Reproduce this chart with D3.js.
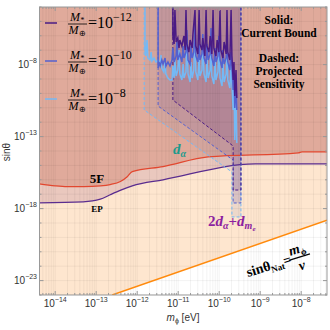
<!DOCTYPE html>
<html>
<head>
<meta charset="utf-8">
<title>sin theta bounds</title>
<style>
  body { margin: 0; background: #fff; }
  svg text { font-family: "Liberation Sans", Arial, sans-serif; }
  .serif { font-family: "Liberation Serif", "Times New Roman", serif; }
</style>
</head>
<body>
<div id="plot"></div>
<script src="https://cdn.jsdelivr.net/npm/d3@7/dist/d3.min.js"></script>
<script>
// all curve points are [log10(m_phi / eV), log10(sin theta)]
let xDomain = [4.14e-15, 4.26e-8];
let yDomain = [1e-24, 1e-4];
let xTickPowers = [-14, -13, -12, -11, -10, -9, -8];
let yTickPowers = [-23, -18, -13, -8];

// sin(theta)_Nat = m_phi / v
let natLine = [[-12.61, -24], [-7.37, -18.8]];

// fifth force bound
let fiveF = [[-14.39, -16.28], [-14.0, -16.42], [-13.71, -16.47], [-13.3, -16.47], [-12.9, -16.42],
  [-12.66, -16.33], [-12.41, -16.12], [-12.25, -15.8], [-12.12, -15.43], [-11.37, -15.08],
  [-10.27, -14.41], [-8.07, -14.13], [-7.98, -14.06], [-7.37, -14.06]];

// equivalence principle bound
let epLine = [[-14.39, -17.6], [-13.32, -17.53], [-12.9, -17.35], [-12.66, -17.04],
  [-12.4, -16.72], [-12.12, -16.42], [-11.37, -16.0], [-9.12, -14.9], [-7.37, -14.9]];

// projected sensitivities (dashed), M*/M_earth = 1e-8, 1e-10, 1e-12
let dash8 = [[-11.83, -4], [-11.83, -11.15], [-9.69, -15.46], [-9.69, -18.58], [-9.47, -18.58], [-9.47, -4]];
let dash10 = [[-11.49, -4], [-11.49, -10.88], [-9.66, -14.63], [-9.66, -17.61], [-9.47, -17.61], [-9.47, -4]];
let dash12 = [[-11.13, -4], [-11.13, -10.46], [-9.66, -13.65], [-9.66, -16.71], [-9.47, -16.71], [-9.47, -4]];

// current bounds (solid)
let solid8 = [[-11.81,-4],[-11.81,-6.99],[-11.79,-7.40],[-11.76,-6.29],[-11.74,-7.54],[-11.69,-7.68],[-11.66,-7.13],
  [-11.64,-7.75],[-11.59,-7.54],[-11.54,-7.82],[-11.49,-7.68],[-11.44,-7.96],[-11.42,-7.33],[-11.40,-8.24],
  [-11.35,-8.51],[-11.32,-7.82],[-11.30,-8.65],[-11.25,-8.93],[-11.20,-9.07],[-11.15,-9.07],[-11.13,-8.10],
  [-11.10,-8.93],[-11.08,-7.68],[-11.05,-8.79],[-11.01,-8.38],[-10.98,-6.99],[-10.96,-8.65],[-10.91,-9.07],
  [-10.88,-7.96],[-10.86,-8.93],[-10.81,-8.51],[-10.79,-6.15],[-10.76,-8.65],[-10.71,-9.21],[-10.69,-7.82],
  [-10.66,-8.93],[-10.62,-8.38],[-10.59,-5.60],[-10.57,-8.51],[-10.52,-9.07],[-10.49,-7.40],[-10.47,-8.79],
  [-10.42,-8.38],[-10.40,-6.43],[-10.37,-8.65],[-10.32,-9.21],[-10.30,-7.54],[-10.27,-8.93],[-10.22,-8.38],
  [-10.20,-6.01],[-10.18,-8.79],[-10.13,-9.35],[-10.10,-7.68],[-10.08,-9.07],[-10.03,-8.51],[-10.01,-6.57],
  [-9.98,-8.93],[-9.93,-9.49],[-9.91,-7.82],[-9.88,-9.21],[-9.83,-8.65],[-9.81,-6.99],[-9.79,-9.07],
  [-9.74,-9.63],[-9.71,-8.10],[-9.69,-9.35],[-9.66,-11.15],[-9.64,-9.07],[-9.62,-13.24],[-9.59,-10.18],[-9.57,-13.44]];

let solid10 = [[-11.49,-4],[-11.49,-8.24],[-11.47,-7.82],[-11.44,-8.10],[-11.40,-7.68],[-11.37,-7.96],[-11.32,-7.54],
  [-11.30,-8.10],[-11.25,-7.82],[-11.20,-8.10],[-11.15,-7.68],[-11.13,-6.85],[-11.10,-7.82],[-11.05,-7.40],
  [-11.03,-6.29],[-11.01,-7.68],[-10.96,-7.26],[-10.91,-7.82],[-10.88,-6.71],[-10.86,-7.54],[-10.81,-7.13],
  [-10.79,-5.60],[-10.76,-7.68],[-10.71,-7.96],[-10.69,-6.71],[-10.66,-7.54],[-10.62,-7.13],[-10.59,-5.18],
  [-10.57,-7.40],[-10.52,-7.82],[-10.49,-6.57],[-10.47,-7.68],[-10.42,-7.26],[-10.40,-5.88],[-10.37,-7.54],
  [-10.32,-7.96],[-10.30,-6.57],[-10.27,-7.68],[-10.22,-7.26],[-10.20,-5.46],[-10.18,-7.54],[-10.13,-8.10],
  [-10.10,-6.85],[-10.08,-7.82],[-10.03,-7.40],[-10.01,-6.01],[-9.98,-7.68],[-9.93,-8.24],[-9.91,-6.99],
  [-9.88,-7.96],[-9.83,-7.54],[-9.81,-6.29],[-9.79,-7.82],[-9.74,-8.38],[-9.71,-7.13],[-9.69,-8.10],
  [-9.66,-9.76],[-9.64,-8.65],[-9.62,-11.01],[-9.59,-9.35],[-9.57,-11.15]];

let solid12 = [[-11.13,-4],[-11.13,-6.01],[-11.10,-6.57],[-11.08,-4.21],[-11.05,-6.43],[-11.01,-6.15],[-10.98,-6.85],
  [-10.96,-6.29],[-10.91,-6.71],[-10.86,-6.01],[-10.83,-6.99],[-10.81,-4.21],[-10.79,-6.57],[-10.74,-7.13],
  [-10.71,-6.29],[-10.66,-6.85],[-10.64,-5.88],[-10.59,-4.21],[-10.57,-6.71],[-10.52,-7.26],[-10.49,-4.21],
  [-10.47,-6.57],[-10.42,-6.99],[-10.40,-6.15],[-10.35,-7.40],[-10.32,-4.21],[-10.30,-6.71],[-10.25,-7.13],
  [-10.22,-6.01],[-10.18,-7.26],[-10.15,-4.21],[-10.13,-6.85],[-10.08,-7.40],[-10.05,-6.29],[-10.01,-7.13],
  [-9.98,-4.21],[-9.96,-6.99],[-9.91,-7.54],[-9.88,-6.43],[-9.83,-7.26],[-9.81,-4.21],[-9.79,-7.13],
  [-9.74,-7.68],[-9.71,-4.21],[-9.69,-7.40],[-9.66,-9.07],[-9.64,-7.82],[-9.62,-10.18],[-9.59,-8.38],[-9.57,-10.32]];

let legendExp = ['-12', '-10', '-8'];
let legendColors = ['#4a1b85', '#5461cf', '#74b9f5'];
let regionFills = ['#5a2878', '#6a4a98', '#8a8ab0'];

let svgWidth = 330, svgHeight = 330;
let margin = {top: 7, right: 3, bottom: 35, left: 39.5};
let width = svgWidth - margin.left - margin.right;
let height = svgHeight - margin.top - margin.bottom;

let svg = d3.select('#plot').append('svg')
  .attr('width', svgWidth).attr('height', svgHeight);

let x = d3.scaleLog().domain(xDomain).range([margin.left, margin.left + width]);
let y = d3.scaleLog().domain(yDomain).range([margin.top + height, margin.top]);
let px = d => x(Math.pow(10, d[0]));
let py = d => y(Math.pow(10, d[1]));
let line = d3.line().x(px).y(py);
let smooth = d3.line().x(px).y(py).curve(d3.curveMonotoneX);

svg.append('defs').append('clipPath').attr('id', 'clip')
  .append('rect').attr('x', margin.left).attr('y', margin.top)
  .attr('width', width).attr('height', height);

let plot = svg.append('g').attr('clip-path', 'url(#clip)');
let yHi = Math.log10(yDomain[1]) + 1;
let xLo = Math.log10(xDomain[0]) - 1;
let xHi = Math.log10(xDomain[1]) + 1;

// region above the naturalness line
let natPoly = [[xLo, natLine[0][1] - 1], ...natLine, [xHi, natLine[1][1]], [xHi, yHi], [xLo, yHi]];
plot.append('path').attr('d', line(natPoly)).attr('fill', '#fee6cf');

function above(pts) {
  let first = pts[0], last = pts[pts.length - 1];
  return [[first[0], yHi], ...pts, [last[0], yHi]];
}
plot.append('path').attr('d', smooth(above(epLine))).attr('fill', '#eac8be');
plot.append('path').attr('d', smooth(above(fiveF))).attr('fill', '#e0aa9b');

// projected sensitivity regions
[[dash8, regionFills[2]], [dash10, regionFills[1]], [dash12, regionFills[0]]].forEach(([d, c]) => {
  plot.append('path').attr('d', line(d) + 'Z').attr('fill', c).attr('fill-opacity', 0.15);
});

// grid
let minor = [];
for (let k = -15; k <= -8; k++) for (let j = 1; j <= 9; j++) minor.push(j * Math.pow(10, k));
minor = minor.filter(v => v >= xDomain[0] && v <= xDomain[1]);
plot.selectAll('.vgrid').data(minor).enter().append('line')
  .attr('x1', d => x(d)).attr('x2', d => x(d))
  .attr('y1', margin.top).attr('y2', margin.top + height)
  .attr('stroke', '#000').attr('stroke-opacity', 0.05);
let decades = d3.range(-24, -3).map(k => Math.pow(10, k));
plot.selectAll('.hgrid').data(decades).enter().append('line')
  .attr('x1', margin.left).attr('x2', margin.left + width)
  .attr('y1', d => y(d)).attr('y2', d => y(d))
  .attr('stroke', '#000').attr('stroke-opacity', 0.05);

// bound lines
plot.append('path').attr('d', line(natLine)).attr('fill', 'none').attr('stroke', '#ff8a0d').attr('stroke-width', 1.5);
plot.append('path').attr('d', smooth(epLine)).attr('fill', 'none').attr('stroke', '#5a2d8f').attr('stroke-width', 1.3);
plot.append('path').attr('d', smooth(fiveF)).attr('fill', 'none').attr('stroke', '#e2472f').attr('stroke-width', 1.3);

[[dash8, legendColors[2]], [dash10, legendColors[1]], [dash12, legendColors[0]]].forEach(([d, c]) => {
  plot.append('path').attr('d', line(d)).attr('fill', 'none').attr('stroke', c)
    .attr('stroke-width', 1).attr('stroke-dasharray', '3,2');
});
[[solid8, legendColors[2]], [solid10, legendColors[1]], [solid12, legendColors[0]]].forEach(([d, c]) => {
  plot.append('path').attr('d', line(d)).attr('fill', 'none').attr('stroke', c).attr('stroke-width', 1.5);
});

// frame and ticks
svg.append('rect').attr('x', margin.left).attr('y', margin.top)
  .attr('width', width).attr('height', height)
  .attr('fill', 'none').attr('stroke', '#999');
let axisG = svg.append('g').attr('stroke', '#999');
minor.forEach(v => {
  let len = Math.abs(Math.log10(v) - Math.round(Math.log10(v))) < 1e-6 ? 4 : 2;
  axisG.append('line').attr('x1', x(v)).attr('x2', x(v)).attr('y1', margin.top + height).attr('y2', margin.top + height - len);
  axisG.append('line').attr('x1', x(v)).attr('x2', x(v)).attr('y1', margin.top).attr('y2', margin.top + len);
});
decades.forEach(v => {
  let len = yTickPowers.includes(Math.round(Math.log10(v))) ? 4 : 2;
  axisG.append('line').attr('y1', y(v)).attr('y2', y(v)).attr('x1', margin.left).attr('x2', margin.left + len);
  axisG.append('line').attr('y1', y(v)).attr('y2', y(v)).attr('x1', margin.left + width).attr('x2', margin.left + width - len);
});

xTickPowers.forEach(p => {
  let t = svg.append('text').attr('x', x(Math.pow(10, p))).attr('y', 307)
    .attr('text-anchor', 'middle').attr('font-size', 10).attr('fill', '#333');
  t.append('tspan').text('10');
  t.append('tspan').attr('dy', -5).attr('font-size', 7).text('\u2212' + (-p));
});
yTickPowers.forEach(p => {
  let t = svg.append('text').attr('x', 37).attr('y', y(Math.pow(10, p)) + 3.5)
    .attr('text-anchor', 'end').attr('font-size', 10).attr('fill', '#333');
  t.append('tspan').text('10');
  t.append('tspan').attr('dy', -5).attr('font-size', 7).text('\u2212' + (-p));
});

let xl = svg.append('text').attr('x', 183).attr('y', 321).attr('text-anchor', 'middle')
  .attr('font-size', 10).attr('fill', '#333');
xl.append('tspan').attr('font-style', 'italic').text('m');
xl.append('tspan').attr('dy', 2).attr('font-size', 7).text('\u03d5');
xl.append('tspan').attr('dy', -2).text(' [eV]');

svg.append('text').attr('transform', 'translate(10,152) rotate(-90)')
  .attr('text-anchor', 'middle').attr('font-size', 10).attr('fill', '#333').text('sin\u03b8');

// legend
legendExp.forEach((e, i) => {
  let g = svg.append('g').attr('transform', 'translate(0,' + (23 + i * 38) + ')');
  g.append('line').attr('x1', 45).attr('x2', 57).attr('y1', 0).attr('y2', 0)
    .attr('stroke', legendColors[i]).attr('stroke-width', 1.5);
  let num = g.append('text').attr('class', 'serif').attr('x', 77).attr('y', -2)
    .attr('text-anchor', 'middle').attr('font-size', 12).attr('font-style', 'italic');
  num.append('tspan').text('M');
  num.append('tspan').attr('dy', 2).attr('font-size', 8).text('*');
  g.append('line').attr('x1', 68).attr('x2', 87).attr('y1', 1).attr('y2', 1).attr('stroke', '#000').attr('stroke-width', 0.8);
  let den = g.append('text').attr('class', 'serif').attr('x', 77).attr('y', 11)
    .attr('text-anchor', 'middle').attr('font-size', 12).attr('font-style', 'italic');
  den.append('tspan').text('M');
  den.append('tspan').attr('dy', 2).attr('font-size', 8).attr('font-style', 'normal').text('\u2295');
  let eq = g.append('text').attr('class', 'serif').attr('x', 88).attr('y', 5).attr('font-size', 16);
  eq.append('tspan').text('=10');
  eq.append('tspan').attr('dy', -7).attr('font-size', 12).text('\u2212' + e.replace('-', ''));
});

// notes
let notes = [['Solid:', 24], ['Current Bound', 37], ['Dashed:', 62], ['Projected', 75], ['Sensitivity', 88]];
notes.forEach(n => {
  svg.append('text').attr('class', 'serif').attr('x', 279).attr('y', n[1])
    .attr('text-anchor', 'middle').attr('font-size', 11.5).attr('font-weight', 'bold').text(n[0]);
});

svg.append('text').attr('class', 'serif').attr('x', 97).attr('y', 183).attr('text-anchor', 'middle')
  .attr('font-size', 13).attr('font-weight', 'bold').text('5F');
svg.append('text').attr('class', 'serif').attr('x', 97).attr('y', 212).attr('text-anchor', 'middle')
  .attr('font-size', 9).attr('font-weight', 'bold').text('EP');

let da = svg.append('text').attr('class', 'serif').attr('x', 173).attr('y', 154)
  .attr('font-size', 15).attr('font-style', 'italic').attr('font-weight', 'bold').attr('fill', '#1c9a8c');
da.append('tspan').text('d');
da.append('tspan').attr('dy', 3).attr('font-size', 10).text('\u03b1');

let dm = svg.append('text').attr('class', 'serif').attr('x', 208).attr('y', 226)
  .attr('font-size', 15).attr('font-weight', 'bold').attr('fill', '#8c1fa0');
dm.append('tspan').text('2');
dm.append('tspan').attr('font-style', 'italic').text('d');
dm.append('tspan').attr('dy', 3).attr('font-size', 10).attr('font-style', 'italic').text('\u03b1');
dm.append('tspan').attr('dy', -3).text('+');
dm.append('tspan').attr('font-style', 'italic').text('d');
dm.append('tspan').attr('dy', 3).attr('font-size', 10).attr('font-style', 'italic').text('m');
dm.append('tspan').attr('dy', 2).attr('font-size', 7).attr('font-style', 'italic').text('e');

let nat = svg.append('g').attr('transform', 'translate(248,277) rotate(-17)');
let nt = nat.append('text').attr('class', 'serif').attr('font-size', 14).attr('font-weight', 'bold');
nt.append('tspan').text('sin\u03b8');
nt.append('tspan').attr('dy', 3).attr('font-size', 9).text('Nat');
nt.append('tspan').attr('dy', -3).text('=');
nat.append('line').attr('x1', 44).attr('x2', 66).attr('y1', -4).attr('y2', -4).attr('stroke', '#000').attr('stroke-width', 1.2);
let mphi = nat.append('text').attr('class', 'serif').attr('x', 55).attr('y', -8)
  .attr('text-anchor', 'middle').attr('font-size', 14).attr('font-weight', 'bold');
mphi.append('tspan').attr('font-style', 'italic').text('m');
mphi.append('tspan').attr('dy', 3).attr('font-size', 9).text('\u03d5');
nat.append('text').attr('class', 'serif').attr('x', 55).attr('y', 9).attr('text-anchor', 'middle')
  .attr('font-size', 14).attr('font-weight', 'bold').attr('font-style', 'italic').text('v');
</script>
</body>
</html>
